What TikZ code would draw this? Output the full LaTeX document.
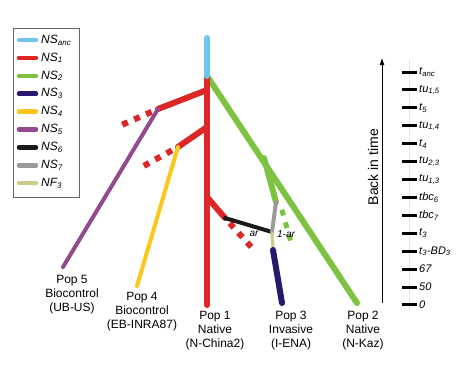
\documentclass[tikz,border=0pt]{standalone}
\usepackage{fontspec}
\setmainfont{Liberation Sans}
\usetikzlibrary{arrows.meta}
\definecolor{ancblue}{HTML}{6EC4EB}
\definecolor{nsred}{HTML}{DC2628}
\definecolor{nsgreen}{HTML}{7EC242}
\definecolor{nsnavy}{HTML}{28166F}
\definecolor{nsyellow}{HTML}{F9C81A}
\definecolor{nspurple}{HTML}{934A8D}
\definecolor{nsblack}{HTML}{1A1A1A}
\definecolor{nsgray}{HTML}{9A9A9A}
\definecolor{nfolive}{HTML}{CDCB8A}

\begin{document}
\begin{tikzpicture}[x=1pt, y=-1pt,
    branch/.style={line width=6pt, line cap=round},
    slim/.style={line width=4pt, line cap=round},
    lost/.style={line width=6pt, dash pattern=on 6pt off 7pt, dash phase=6pt},
    poplbl/.style={font=\fontsize{12}{14}\selectfont, align=center, anchor=north, inner sep=0pt},
    keylbl/.style={font=\fontsize{12}{14}\selectfont\itshape, anchor=west, inner sep=0pt},
    tlbl/.style={font=\fontsize{11}{13}\selectfont\itshape, anchor=west, inner sep=0pt},
    rate/.style={font=\fontsize{10}{12}\selectfont\itshape, inner sep=0pt},
  ]
    \useasboundingbox (0,0) rectangle (463,372);

    \coordinate (top) at (207,38);
    \coordinate (root) at (207,76);
    \coordinate (b5) at (207,90);
    \coordinate (j5) at (158,109);
    \coordinate (x5) at (117,127);
    \coordinate (p5) at (63,267);
    \coordinate (b4) at (207,127);
    \coordinate (j4) at (178,147);
    \coordinate (x4) at (140,168);
    \coordinate (p4) at (137,286);
    \coordinate (b6) at (207,197);
    \coordinate (j6) at (225,218);
    \coordinate (x6) at (254,250);
    \coordinate (p1) at (207,305);
    \coordinate (s2) at (264,158);
    \coordinate (p2) at (357,303);
    \coordinate (j7) at (276,202);
    \coordinate (j7r) at (280,203);
    \coordinate (x7) at (292,246);
    \coordinate (adm) at (272,232);
    \coordinate (bn) at (273,250);
    \coordinate (p3) at (282,303);

    \draw[branch, nsgreen] (root) -- (p2);
    \draw[branch, nsgreen] (s2) -- (j7);

    \draw[branch, nsred] (root) -- (p1);
    \draw[branch, nsred] (b5) -- (j5);
    \draw[lost, nsred] (j5) -- (x5);
    \draw[slim, nspurple] (j5) -- (p5);
    \draw[branch, nsred] (b4) -- (j4);
    \draw[lost, nsred] (j4) -- (x4);
    \draw[slim, nsyellow] (j4) -- (p4);
    \draw[branch, nsred] (b6) -- (j6);
    \draw[lost, nsred] (j6) -- (x6);

    \draw[slim, nsblack] (j6) -- (adm);
    \draw[slim, nsgray] (j7) -- (adm);
    \draw[lost, nsgreen, line width=5pt] (j7r) -- (x7);
    \draw[line width=3pt, nfolive] (adm) -- (bn);
    \draw[branch, nsnavy] (bn) -- (p3);

    \draw[branch, ancblue] (top) -- (root);

    \node[rate] (ar) at (254,234) {ar};
    \node[rate] (notar) at (286,234) {1-ar};

    \node[poplbl] (pop5) at (72,275) {Pop 5\\Biocontrol\\(UB-US)};
    \node[poplbl] (pop4) at (142,292) {Pop 4\\Biocontrol\\(EB-INRA87)};
    \node[poplbl] (pop1) at (215,311) {Pop 1\\Native\\(N-China2)};
    \node[poplbl] (pop3) at (291,311) {Pop 3\\Invasive\\(I-ENA)};
    \node[poplbl] (pop2) at (363,311) {Pop 2\\Native\\(N-Kaz)};

    \draw[black!60, line width=0.6pt] (13,28) rectangle (79,197);
    \foreach \c/\lbl [count=\i from 0] in {ancblue/NS\textsubscript{anc}, nsred/NS\textsubscript{1}, nsgreen/NS\textsubscript{2}, nsnavy/NS\textsubscript{3}, nsyellow/NS\textsubscript{4}, nspurple/NS\textsubscript{5}, nsblack/NS\textsubscript{6}, nsgray/NS\textsubscript{7}, nfolive/NF\textsubscript{3}} {
      \draw[line width=4.5pt, line cap=round, \c] (19,{40+17.9*\i}) -- (36,{40+17.9*\i});
      \node[keylbl] (key\i) at (41,{40+17.9*\i}) {\lbl};
    }

    \coordinate (axbot) at (382,303);
    \coordinate (axtop) at (382,58);
    \draw[-{Latex[length=7pt, width=5pt]}, line width=0.8pt] (axbot) -- (axtop);
    \node[rotate=90, font=\fontsize{14}{16}\selectfont] (back) at (373,167) {Back in time};

    \coordinate (rultop) at (409,60);
    \coordinate (rulbot) at (409,312);
    \draw[black!12, line width=0.8pt] (rultop) -- (rulbot);
    \foreach \lbl [count=\i from 0] in {t\textsubscript{anc}, {tu\textsubscript{1,5}}, t\textsubscript{5}, {tu\textsubscript{1,4}}, t\textsubscript{4}, {tu\textsubscript{2,3}}, {tu\textsubscript{1,3}}, tbc\textsubscript{6}, tbc\textsubscript{7}, t\textsubscript{3}, t\textsubscript{3}-BD\textsubscript{3}, 67, 50, 0} {
      \draw[line width=3pt] (402,{72+17.92*\i}) -- (417,{72+17.92*\i});
      \node[tlbl] (t\i) at (419,{72+17.92*\i}) {\lbl};
    }
  \end{tikzpicture}
\end{document}
